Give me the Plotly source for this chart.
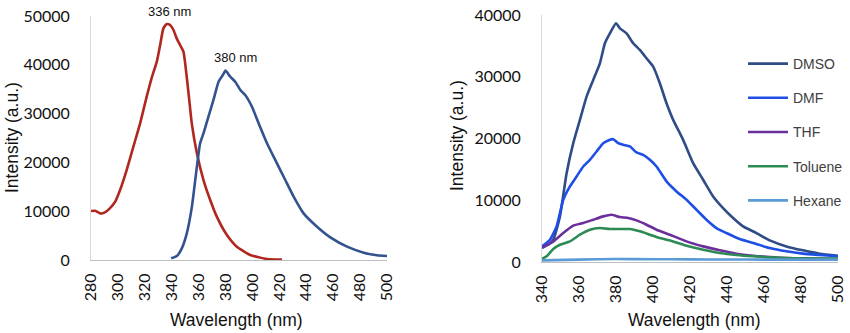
import plotly.graph_objects as go

# ---- Left panel: excitation (red) and emission (blue) ----
exc_x = [280, 283, 286.7, 290, 294, 298, 301.6, 306.5, 311.5, 316.5, 321.4, 325, 328.9, 331.4, 333.8,
         336.3, 338.8, 341.3, 343.7, 346.2, 348.7, 350, 352.5, 354.9, 358.7, 363.6, 368.6, 373.5, 381,
         388.4, 398.4, 410.8, 421.9]
exc_y = [10040, 10100, 9560, 9700, 10590, 11950, 14340, 18440, 23220, 28000, 33470, 37230, 40640, 44060,
         47470, 48360, 48150, 47130, 45420, 44060, 42690, 40300, 34150, 28000, 21860, 16390, 12300, 8880,
         5120, 2730, 1020, 200, 70]

em_x = [339.6, 343.8, 347.5, 351.2, 355, 358.7, 361.1, 363.6, 367.3, 371, 374.8, 378, 380, 383.5, 387.2,
        391, 394.6, 399.6, 404.6, 410.8, 418.2, 424.4, 430.6, 438, 448, 457.9, 470.3, 482.7, 492.6, 500]
em_y = [340, 820, 2390, 5460, 10930, 19130, 23910, 25960, 29370, 32790, 36540, 37910, 38800, 37570, 36540,
        34840, 33810, 31420, 28000, 23910, 19810, 16390, 12980, 9560, 6830, 4640, 2730, 1500, 960, 820]

left_ticks_x = [280, 300, 320, 340, 360, 380, 400, 420, 440, 460, 480, 500]
left_ticks_y = [0, 10000, 20000, 30000, 40000, 50000]
left_ticktext_y = ["0", "10000", "20000", "30000", "40000", "50000"]
peak_labels = ["336 nm", "380 nm"]
peak_x = [336, 380]

# ---- Right panel: solvents ----
dmso_x = [340, 343.4, 346.1, 349.7, 353.3, 356.9, 360.5, 364.1, 367.7, 371.3, 374, 376.7, 380, 382.1, 385.7,
          389.3, 392.9, 396.5, 400.1, 403.7, 407.3, 410.9, 416.3, 421.7, 427.1, 432.5, 437.9, 443.3, 448.7,
          455.9, 463.1, 472.1, 481.1, 490.1, 500]
dmso_y = [2530, 2800, 3610, 7390, 14390, 19250, 23020, 26790, 29490, 32180, 35420, 37030, 38650, 37840, 37030,
          35420, 34340, 32990, 31640, 28950, 25710, 23020, 19780, 16010, 13320, 10620, 8730, 7120, 5770,
          4690, 3500, 2530, 1890, 1350, 1020]

dmf_x = [340, 344.3, 347.9, 351.5, 355.1, 358.7, 362.3, 365.9, 369.5, 373.1, 375.8, 378.5, 381.2, 383.9,
         387.5, 391.1, 394.7, 398.3, 401.9, 407.3, 412.7, 418.1, 423.5, 428.9, 434.3, 439.7, 446.9, 454.1,
         463.1, 472.1, 481.1, 490.1, 500]
dmf_y = [2530, 3610, 5770, 10080, 12240, 13850, 15470, 16550, 17900, 19250, 19680, 19890, 19250, 18980,
         18710, 17740, 17360, 16550, 15470, 13050, 11430, 10080, 8460, 6850, 5500, 4690, 3720, 3070,
         2260, 1730, 1350, 1130, 920]

thf_x = [340, 346.1, 351.5, 356.9, 362.3, 367.7, 373.1, 377.6, 382.1, 386.6, 391.1, 396.5, 401.9, 409.1,
         418.1, 427.1, 436.1, 445.1, 454.1, 463.1, 472.1, 481.1, 500]
thf_y = [2260, 3340, 4690, 5880, 6310, 6850, 7390, 7650, 7280, 7120, 6740, 6040, 5230, 4420,
         3340, 2530, 1890, 1350, 1020, 810, 650, 590, 490]

tol_x = [340, 342.5, 346.1, 349.7, 355.1, 360.5, 365.9, 371.3, 376.7, 382.1, 387.5, 392.9, 398.3, 403.7,
         410.9, 418.1, 427.1, 436.1, 445.1, 454.1, 472.1, 500]
tol_y = [490, 920, 2100, 2800, 3340, 4420, 5230, 5500, 5340, 5340, 5340, 4960, 4420, 3880,
         3340, 2640, 1990, 1460, 1130, 920, 650, 540]

hex_x = [340, 360, 380, 400, 420, 440, 460, 480, 500]
hex_y = [270, 380, 480, 450, 420, 400, 390, 380, 380]

right_ticks_x = [340, 360, 380, 400, 420, 440, 460, 480, 500]
right_ticks_y = [0, 10000, 20000, 30000, 40000]
right_ticktext_y = ["0", "10000", "20000", "30000", "40000"]

series_names = ["DMSO", "DMF", "THF", "Toluene", "Hexane"]
series_colors = ["#2F4C86", "#1D4FE6", "#6B2F9C", "#2E8A55", "#5B9BD5"]

W, H = 850, 333
TICKFONT = dict(family="Lato, Carlito, sans-serif", size=16, color="#111111")
TITLEFONT = dict(family="Liberation Sans, Arial, sans-serif", size=17.5, color="#111111")

fig = go.Figure()

fig.add_trace(go.Scatter(x=exc_x, y=exc_y, mode="lines", line=dict(color="#B0271F", width=2.6, shape="spline", smoothing=0.5),
                         xaxis="x", yaxis="y", showlegend=False))
fig.add_trace(go.Scatter(x=em_x, y=em_y, mode="lines", line=dict(color="#34528F", width=2.6, shape="spline", smoothing=0.5),
                         xaxis="x", yaxis="y", showlegend=False))

right_data = [(dmso_x, dmso_y), (dmf_x, dmf_y), (thf_x, thf_y), (tol_x, tol_y), (hex_x, hex_y)]
for i, ((xs, ys), name, col) in enumerate(zip(right_data, series_names, series_colors)):
    fig.add_trace(go.Scatter(x=xs, y=ys, mode="lines", name=name, legendgroup=name,
                             line=dict(color=col, width=2.6, shape="spline", smoothing=0.5),
                             xaxis="x2", yaxis="y2"))

# plot areas in pixels
L = dict(x0=91, x1=387, ybot=260, ytop=16)
R = dict(x0=542, x1=838, ybot=262, ytop=15)

def px_x(p):
    return p / W

def px_y(p):
    return (H - p) / H

axis_common = dict(showgrid=False, zeroline=False, ticks="", tickfont=TICKFONT, fixedrange=True,
                   automargin=False)

fig.update_layout(
    template="none",
    width=W, height=H, margin=dict(l=0, r=0, t=0, b=0, pad=0, autoexpand=False),
    paper_bgcolor="white", plot_bgcolor="white",
    xaxis=dict(domain=[px_x(L["x0"]), px_x(L["x1"])], range=[280, 500], tickvals=left_ticks_x,
               tickangle=-90, showline=True, linecolor="#BFBFBF", linewidth=1, anchor="y",
               ticklabelstandoff=6, **axis_common),
    yaxis=dict(domain=[px_y(L["ybot"]), px_y(L["ytop"])], range=[0, 50000], tickvals=left_ticks_y,
               ticktext=left_ticktext_y,
               showline=True, linecolor="#D9D9D9", linewidth=1, anchor="x",
               ticklabelstandoff=17, **axis_common),
    xaxis2=dict(domain=[px_x(R["x0"]), px_x(R["x1"])], range=[340, 500], tickvals=right_ticks_x,
                tickangle=-90, showline=True, linecolor="#BFBFBF", linewidth=1, anchor="y2",
                ticklabelstandoff=6, **axis_common),
    yaxis2=dict(domain=[px_y(R["ybot"]), px_y(R["ytop"])], range=[0, 40000], tickvals=right_ticks_y,
                ticktext=right_ticktext_y,
                showline=True, linecolor="#D9D9D9", linewidth=1, anchor="x2",
                ticklabelstandoff=17, **axis_common),
    legend=dict(x=px_x(743), y=px_y(48), xanchor="left", yanchor="top",
                font=dict(family="Liberation Sans, Arial, sans-serif", size=14, color="#404040"),
                tracegroupgap=13, bgcolor="rgba(0,0,0,0)", itemwidth=40),
    showlegend=True,
)

annotations = [
    dict(text="Wavelength (nm)", x=px_x(236), y=px_y(320), xref="paper", yref="paper",
         showarrow=False, font=TITLEFONT, xanchor="center", yanchor="middle"),
    dict(text="Intensity (a.u.)", x=px_x(12), y=px_y(138), xref="paper", yref="paper", textangle=-90,
         showarrow=False, font=TITLEFONT, xanchor="center", yanchor="middle"),
    dict(text="Wavelength (nm)", x=px_x(694), y=px_y(320), xref="paper", yref="paper",
         showarrow=False, font=TITLEFONT, xanchor="center", yanchor="middle"),
    dict(text="Intensity (a.u.)", x=px_x(457), y=px_y(135), xref="paper", yref="paper", textangle=-90,
         showarrow=False, font=TITLEFONT, xanchor="center", yanchor="middle"),
]
peak_label_y = [12, 57]
peak_xshift = [3, 10]
for lab, px_, py_, xs_ in zip(peak_labels, peak_x, peak_label_y, peak_xshift):
    annotations.append(dict(text=lab, x=px_, y=px_y(py_), xref="x", yref="paper", showarrow=False,
                            xshift=xs_, xanchor="center", yanchor="middle",
                            font=dict(family="Liberation Sans, Arial, sans-serif", size=13, color="#111111")))
fig.update_layout(annotations=annotations)

fig.write_html("out.html")
